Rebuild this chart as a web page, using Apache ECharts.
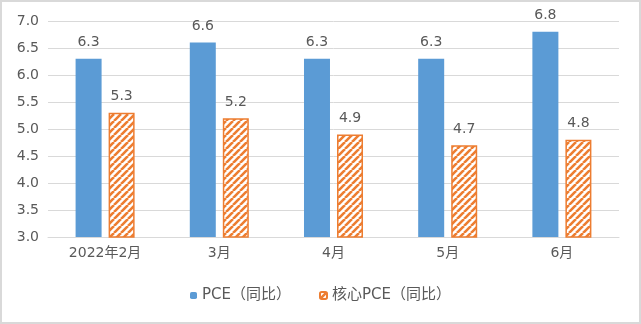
<!DOCTYPE html>
<html>
<head>
<meta charset="utf-8">
<script src="https://cdn.jsdelivr.net/npm/echarts@6/dist/echarts.min.js"></script>
<style>
  html, body { margin: 0; padding: 0; background: #fff; }
  #chart { width: 641px; height: 324px; box-sizing: border-box; border: 2px solid #d9d9d9; }
</style>
</head>
<body>
<div id="chart"></div>
<script>
// Monthly year-on-year PCE readings
const categories = ['2022年2月', '3月', '4月', '5月', '6月'];
const pceValues = [6.3, 6.6, 6.3, 6.3, 6.8];
const corePceValues = [5.3, 5.2, 4.9, 4.7, 4.8];
const seriesNames = ['PCE（同比）', '核心PCE（同比）'];
const yTicks = { min: 3.0, max: 7.0, interval: 0.5 };

const BLUE = '#5b9bd5';
const ORANGE = '#ed7d31';
const TEXT = '#595959';
const FONT = '"DejaVu Sans", "Noto Sans CJK SC", sans-serif';

// Diagonal hatch fill for the core series
function makeHatch() {
  const size = 7;
  const c = document.createElement('canvas');
  c.width = size; c.height = size;
  const ctx = c.getContext('2d');
  ctx.fillStyle = '#ffffff';
  ctx.fillRect(0, 0, size, size);
  ctx.strokeStyle = ORANGE;
  ctx.lineWidth = 2.6;
  ctx.beginPath();
  for (let k = -1; k <= 1; k++) {
    ctx.moveTo(k * size, size);
    ctx.lineTo(k * size + size, 0);
  }
  ctx.stroke();
  return c;
}

const chart = echarts.init(document.getElementById('chart'), null, { renderer: 'canvas' });
chart.setOption({
  animation: false,
  textStyle: { fontFamily: FONT, color: TEXT },
  grid: { left: 46, right: 20, top: 19, bottom: 85 },
  legend: {
    bottom: 14,
    left: 'center',
    itemWidth: 7,
    itemHeight: 7,
    itemGap: 28,
    textStyle: { fontSize: 15, color: TEXT, fontFamily: FONT },
    data: seriesNames
  },
  xAxis: {
    type: 'category',
    data: categories,
    axisLine: { lineStyle: { color: '#d9d9d9' } },
    axisTick: { show: false },
    axisLabel: { fontSize: 14, color: TEXT, margin: 9 }
  },
  yAxis: {
    type: 'value',
    min: yTicks.min,
    max: yTicks.max,
    interval: yTicks.interval,
    axisLine: { show: false },
    axisTick: { show: false },
    axisLabel: { fontSize: 14, color: TEXT, margin: 9, formatter: v => v.toFixed(1) },
    splitLine: { lineStyle: { color: '#d9d9d9' } }
  },
  series: [
    {
      name: seriesNames[0],
      type: 'bar',
      data: pceValues,
      barWidth: 26,
      barGap: '27%',
      itemStyle: { color: BLUE },
      label: { show: true, position: 'top', distance: 9, fontSize: 14, color: TEXT, formatter: p => p.value.toFixed(1) }
    },
    {
      name: seriesNames[1],
      type: 'bar',
      data: corePceValues,
      barWidth: 26,
      itemStyle: { color: { image: makeHatch(), repeat: 'repeat' }, borderColor: ORANGE, borderWidth: 1.5 },
      label: { show: true, position: 'top', distance: 9, fontSize: 14, color: TEXT, formatter: p => p.value.toFixed(1) }
    }
  ]
});
</script>
</body>
</html>
